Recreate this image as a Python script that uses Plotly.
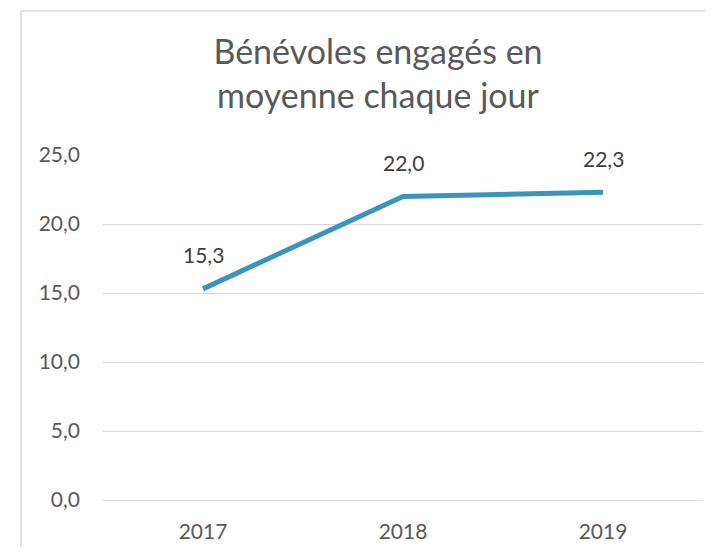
import plotly.graph_objects as go

years = ["2017", "2018", "2019"]
values = [15.3, 22.0, 22.3]
labels = ["15,3", "22,0", "22,3"]
yticks = [0, 5, 10, 15, 20, 25]
ytick_text = ["0,0", "5,0", "10,0", "15,0", "20,0", "25,0"]

# The browser page adds an 8px body margin; the figure is sized/offset to compensate.
OFF = 8
W, H = 713 - 2 * OFF, 555 - 2 * OFF
ml, mt = 103 - OFF, 155 - OFF
mr = W - (703 - OFF)
mb = H - (500 - OFF)
pw, ph = W - ml - mr, H - mt - mb

fig = go.Figure()
fig.add_trace(go.Scatter(
    x=years, y=values, mode="lines",
    line=dict(color="#3A94BC", width=5),
    hoverinfo="skip", showlegend=False,
))

for i, (y, t) in enumerate(zip(values, labels)):
    fig.add_annotation(x=i, y=y, xref="x", yref="y", text=t, showarrow=False, yshift=34,
                       font=dict(family="Lato", size=21, color="#404040"))

def px_x(p):
    return (p - OFF - ml) / pw

def px_y(p):
    return (H - mb - (p - OFF)) / ph

border = dict(color="#D9D9D9", width=1.5)
# chart-area border: left and top edges (the right and bottom edges are off-image)
fig.add_shape(type="line", xref="paper", yref="paper",
              x0=px_x(21), x1=px_x(21), y0=px_y(560), y1=px_y(11), line=border, layer="below")
fig.add_shape(type="line", xref="paper", yref="paper",
              x0=px_x(21), x1=px_x(720), y0=px_y(11), y1=px_y(11), line=border, layer="below")

fig.update_layout(
    width=W, height=H,
    margin=dict(l=ml, r=mr, t=mt, b=mb, autoexpand=False),
    paper_bgcolor="white", plot_bgcolor="white",
    font=dict(family="Lato", color="#595959"),
    title=dict(text="Bénévoles engagés en<br>moyenne chaque jour",
               x=(378 - OFF) / W, xanchor="center", y=1 - 56 / H, yanchor="top",
               font=dict(family="Lato", size=34, color="#595959")),
    xaxis=dict(type="category", range=[-0.5, 2.5], showgrid=False,
               showline=True, linecolor="#D9D9D9", linewidth=1,
               ticks="", tickfont=dict(size=21, color="#595959"),
               ticklabelstandoff=13, fixedrange=True),
    yaxis=dict(range=[0, 25], tickvals=yticks, ticktext=ytick_text,
               showgrid=True, gridcolor="#D9D9D9", gridwidth=1,
               zeroline=False, showline=False, ticks="",
               tickfont=dict(size=21, color="#595959"),
               ticklabelstandoff=22, fixedrange=True),
)

fig.write_html("out.html")
